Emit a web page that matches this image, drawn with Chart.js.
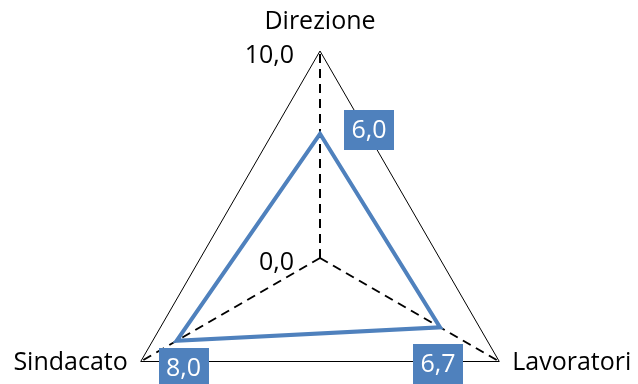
<!DOCTYPE html>
<html>
<head>
<meta charset="utf-8">
<script src="https://cdn.jsdelivr.net/npm/chart.js@4"></script>
<style>
    html, body { margin: 0; padding: 0; background: #fff; overflow: hidden; }
    #wrap { width: 638px; height: 520px; }
</style>
</head>
<body>
<div id="wrap">
    <canvas id="stats" width="638" height="520"></canvas>
</div>
<script>
    var categories = ['Direzione', 'Lavoratori', 'Sindacato'];
    var values = [6.0, 6.7, 8.0];
    var tickValues = [0, 10];

    var FONT = '"Open Sans", "Noto Sans", sans-serif';
    var BLUE = '#4F81BD';

    function fmt(v) {
        return v.toFixed(1).replace('.', ',');
    }

    // axis names, tick values and boxed data labels drawn on top of the radar
    var textPlugin = {
        id: 'texts',
        afterDatasetsDraw: function (chart) {
            var ctx = chart.ctx;
            var r = chart.scales.r;
            ctx.save();
            ctx.fillStyle = '#000';
            ctx.font = '25px ' + FONT;
            ctx.textBaseline = 'middle';

            // category names
            var p0 = r.getPointPosition(0, r.drawingArea);
            ctx.textAlign = 'center';
            ctx.fillText(categories[0], p0.x, p0.y - 29);
            var p1 = r.getPointPosition(1, r.drawingArea);
            ctx.textAlign = 'left';
            ctx.fillText(categories[1], p1.x + 13, p1.y + 1);
            var p2 = r.getPointPosition(2, r.drawingArea);
            ctx.textAlign = 'right';
            ctx.fillText(categories[2], p2.x - 13, p2.y + 1);

            // tick labels
            ctx.textAlign = 'right';
            tickValues.forEach(function (v) {
                var d = r.getDistanceFromCenterForValue(v);
                ctx.fillText(fmt(v), r.xCenter - 26, r.yCenter - d + 5);
            });

            // data labels
            var offsets = [[49, -4], [-2, 37], [7, 27]];
            var meta = chart.getDatasetMeta(0);
            meta.data.forEach(function (pt, i) {
                var txt = fmt(values[i]);
                var w = 50;
                var h = 40;
                var cx = pt.x + offsets[i][0];
                var cy = pt.y + offsets[i][1];
                ctx.fillStyle = BLUE;
                ctx.fillRect(Math.round(cx - w / 2), Math.round(cy - h / 2), w, h);
                ctx.fillStyle = '#fff';
                ctx.textAlign = 'center';
                ctx.fillText(txt, cx, cy + 1);
            });
            ctx.restore();
        }
    };

    var ctx = document.getElementById('stats').getContext('2d');
    new Chart(ctx, {
        type: 'radar',
        data: {
            labels: categories,
            datasets: [{
                data: values,
                borderColor: BLUE,
                borderWidth: 4,
                fill: false,
                pointRadius: 0,
                pointHoverRadius: 0
            }]
        },
        options: {
            responsive: false,
            maintainAspectRatio: false,
            animation: false,
            layout: {
                padding: { left: 113, right: 111, top: 51, bottom: 55 }
            },
            plugins: {
                legend: { display: false },
                tooltip: { enabled: false }
            },
            scales: {
                r: {
                    min: 0,
                    max: 10,
                    ticks: { display: false, stepSize: 10 },
                    pointLabels: { display: false },
                    grid: { color: '#000', lineWidth: 1 },
                    angleLines: {
                        color: '#000',
                        lineWidth: 2,
                        borderDash: [9, 6]
                    }
                }
            }
        },
        plugins: [textPlugin]
    });
</script>
</body>
</html>
